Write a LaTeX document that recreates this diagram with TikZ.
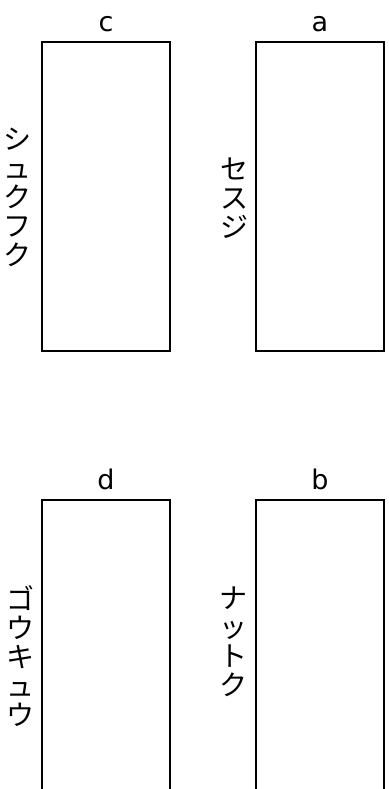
\documentclass[tikz,border=0pt]{standalone}
\usepackage{fontspec}
\setmainfont{DejaVu Sans}
\newfontfamily\jp{Noto Sans CJK JP}
\begin{document}
\begin{tikzpicture}[x=1pt,y=-1pt,
  box/.style={draw=black,line width=2pt,minimum width=128pt,minimum height=309pt,inner sep=0pt},
  lab/.style={font=\fontsize{27}{30}\selectfont,inner sep=0pt},
  vlab/.style={font=\jp\fontsize{28}{29}\selectfont,align=center,inner sep=0pt}]
\useasboundingbox (0,0) rectangle (388,789);
\clip (0,0) rectangle (388,789);
\node[box] (rc) at (106,196.5) {};
\node[box] (ra) at (320,196.5) {};
\node[box] (rd) at (106,654.5) {};
\node[box] (rb) at (320,654.5) {};
\node[lab] (lc) at (106,24) {c};
\node[lab] (la) at (320,24) {a};
\node[lab] (ld) at (106,479) {d};
\node[lab] (lb) at (320,479) {b};
\node[vlab] (vc) at (18,197) {シ\\ュ\\ク\\フ\\ク};
\node[vlab] (va) at (234,198) {セ\\ス\\ジ};
\node[vlab] (vd) at (20,656) {ゴ\\ウ\\キ\\ュ\\ウ};
\node[vlab] (vb) at (233,642) {ナ\\ッ\\ト\\ク};
\end{tikzpicture}
\end{document}
